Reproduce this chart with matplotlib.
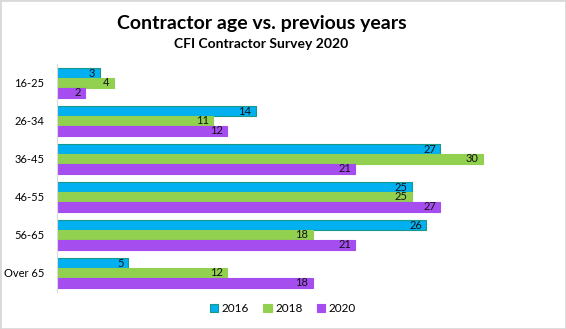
import numpy as np
import matplotlib.pyplot as plt

plt.rcParams['font.family'] = ['Lato', 'DejaVu Sans']

categories = ['16-25', '26-34', '36-45', '46-55', '56-65', 'Over 65']
years = ['2016', '2018', '2020']
v2016 = [3, 14, 27, 25, 26, 5]
v2018 = [4, 11, 30, 25, 18, 12]
v2020 = [2, 12, 21, 27, 21, 18]

colors = ['#00B0F0', '#92D050', '#A64DF0']
edges = ['#17998A', '#92D050', '#A64DF0']

fig = plt.figure(figsize=(5.66, 3.29), dpi=100)
ax = fig.add_axes([0.1007, 0.1125, 0.878, 0.693])

y = np.arange(len(categories))
h = 0.26
for i, (vals, c, e, lab) in enumerate(zip([v2016, v2018, v2020], colors, edges, years)):
    pos = y + (i - 1) * h
    bars = ax.barh(pos, vals, height=h, color=c, edgecolor=e, linewidth=0.8, label=lab)
    for b, v in zip(bars, vals):
        ax.text(b.get_width() - 0.3, b.get_y() + h / 2, str(v), ha='right', va='center',
                fontsize=8, color='#111111')

ax.set_ylim(len(categories) - 0.5, -0.5)
ax.set_xlim(0, 35)
ax.set_yticks(y)
ax.set_yticklabels(categories, fontsize=8)
ax.tick_params(axis='y', length=0, pad=9)
ax.set_xticks([])
for s in ['top', 'right', 'bottom']:
    ax.spines[s].set_visible(False)
ax.spines['left'].set_color('#D9D9D9')

fig.text(0.462, 0.93, 'Contractor age vs. previous years', ha='center', va='center',
         fontsize=14, fontweight='bold')
fig.text(0.462, 0.866, 'CFI Contractor Survey 2020', ha='center', va='center',
         fontsize=10, fontweight='bold')

fig.legend(loc='center', bbox_to_anchor=(0.5, 0.062), ncol=3, frameon=False, fontsize=8.5,
           handlelength=0.7, handleheight=0.7, handletextpad=0.3, columnspacing=1.2)

fig.patches.append(plt.Rectangle((0, 0), 1, 1, transform=fig.transFigure, fill=False,
                                 edgecolor='#D9D9D9', linewidth=2))

fig.savefig('out.png', dpi=100)
